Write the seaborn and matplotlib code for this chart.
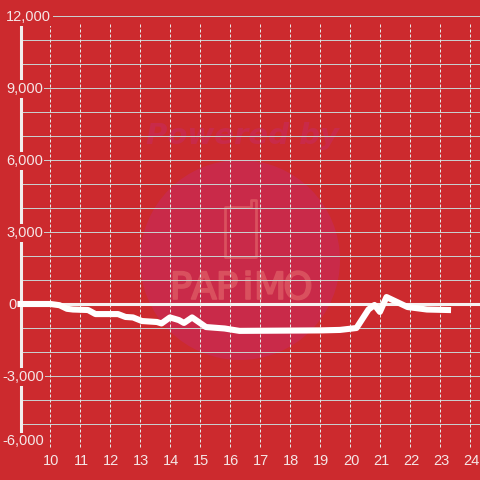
import matplotlib
matplotlib.use('Agg')
import matplotlib.pyplot as plt
from matplotlib.patches import Circle
from matplotlib.transforms import blended_transform_factory, ScaledTranslation
import matplotlib.patheffects as pe
import seaborn as sns

hours = [9.0, 10.0, 10.3, 10.55, 10.75, 11.25, 11.5, 12.25, 12.5, 12.75, 13.05, 13.55, 13.7,
         13.98, 14.28, 14.45, 14.72, 15.18, 15.8, 16.3, 19.0, 19.65, 20.2, 20.6, 20.8, 20.98,
         21.2, 21.9, 22.55, 23.25]
values = [0, 0, -50, -200, -230, -250, -420, -420, -540, -560, -710, -750, -810,
          -560, -670, -790, -560, -960, -1020, -1120, -1100, -1080, -1000, -230, -40, -330,
          290, -125, -230, -250]

x_ticks = list(range(10, 25))
y_minor = list(range(-6000, 13000, 1000))
y_labels = [12000, 9000, 6000, 3000, 0, -3000, -6000]
y_label_x = [6, 6, 6, 6, 8, 2, 2]
y_label_nudge = [-40, -40, -40, -40, -40, -40, 280]  # -6,000 sits above the bottom line

BG = '#CC2A2E'
GRID = '#C9CDCD'
TEXT = '#F5E6E6'
PINK = '#C92A49'
MARK = '#D9505E'

sns.set_theme(style='white')
plt.rcParams['font.family'] = ['Liberation Sans', 'DejaVu Sans']

fig = plt.figure(figsize=(4.8, 4.8), dpi=100, facecolor=BG)

# watermark sits on its own pixel-sized axes behind the chart
wm = fig.add_axes([0, 0, 1, 1], zorder=0)
wm.set_xlim(0, 480)
wm.set_ylim(480, 0)
wm.axis('off')
wm.add_patch(Circle((240, 260), 100, facecolor=PINK, edgecolor='none'))
wm.text(242, 136, 'Powered by', color=PINK, fontsize=21, fontweight='bold', fontstyle='italic',
        ha='center', va='center', family='DejaVu Sans')
wm.plot([250, 225, 225, 256, 256, 251, 251], [207, 207, 257, 257, 200, 200, 207],
        color=MARK, lw=2, solid_joinstyle='round')
for ch, px in zip('PAPiMO', [181, 204, 227, 248, 270, 298]):
    wm.text(px, 289, ch, color=MARK, fontsize=27, ha='center', va='center',
            family='Liberation Sans Narrow',
            path_effects=[pe.withStroke(linewidth=1.2, foreground=MARK)])

ax = fig.add_axes([20.5 / 480, 32 / 480, 459.5 / 480, 432 / 480], zorder=1)
ax.patch.set_alpha(0)
ax.set_xlim(9, 24.317)
ax.set_ylim(-6000, 12000)
sns.despine(ax=ax, left=True, bottom=True)

ax.set_yticks(y_minor)
ax.set_yticklabels([])
ax.set_xticks(x_ticks)
ax.tick_params(axis='x', length=0, pad=4, labelsize=10.5, labelcolor=TEXT)
ax.tick_params(axis='y', length=0)
ax.grid(axis='y', color=GRID, lw=0.72)
ax.vlines(x_ticks, -5950, 11650, color='#E4E8E6', lw=0.72, linestyles=(0, (3, 2)), zorder=1.5)

# left axis line and zero line
ax.axvline(9, color='#F2EDED', lw=2.2, ymin=0.03, ymax=0.98, zorder=1.6, clip_on=False)
ax.axhline(0, color='#F6F1F1', lw=2.2, zorder=1.7)

sns.lineplot(x=hours, y=values, color='white', lw=4.4, ax=ax, zorder=5, estimator=None, sort=False,
             solid_capstyle='projecting', solid_joinstyle='round', clip_on=False)

label_trans = blended_transform_factory(fig.transFigure, ax.transData)
for val, px, nudge in zip(y_labels, y_label_x, y_label_nudge):
    ax.text(px / 480, val + nudge, f'{val:,}', transform=label_trans,
            color=TEXT, fontsize=10.5, ha='left', va='center', zorder=4,
            bbox=dict(facecolor=BG, edgecolor='none', pad=1.2))

nudge_right = ScaledTranslation(1 / 100, 0, fig.dpi_scale_trans)
for label in ax.get_xticklabels():
    label.set_transform(label.get_transform() + nudge_right)

fig.savefig('out.png', dpi=100, facecolor=BG)
